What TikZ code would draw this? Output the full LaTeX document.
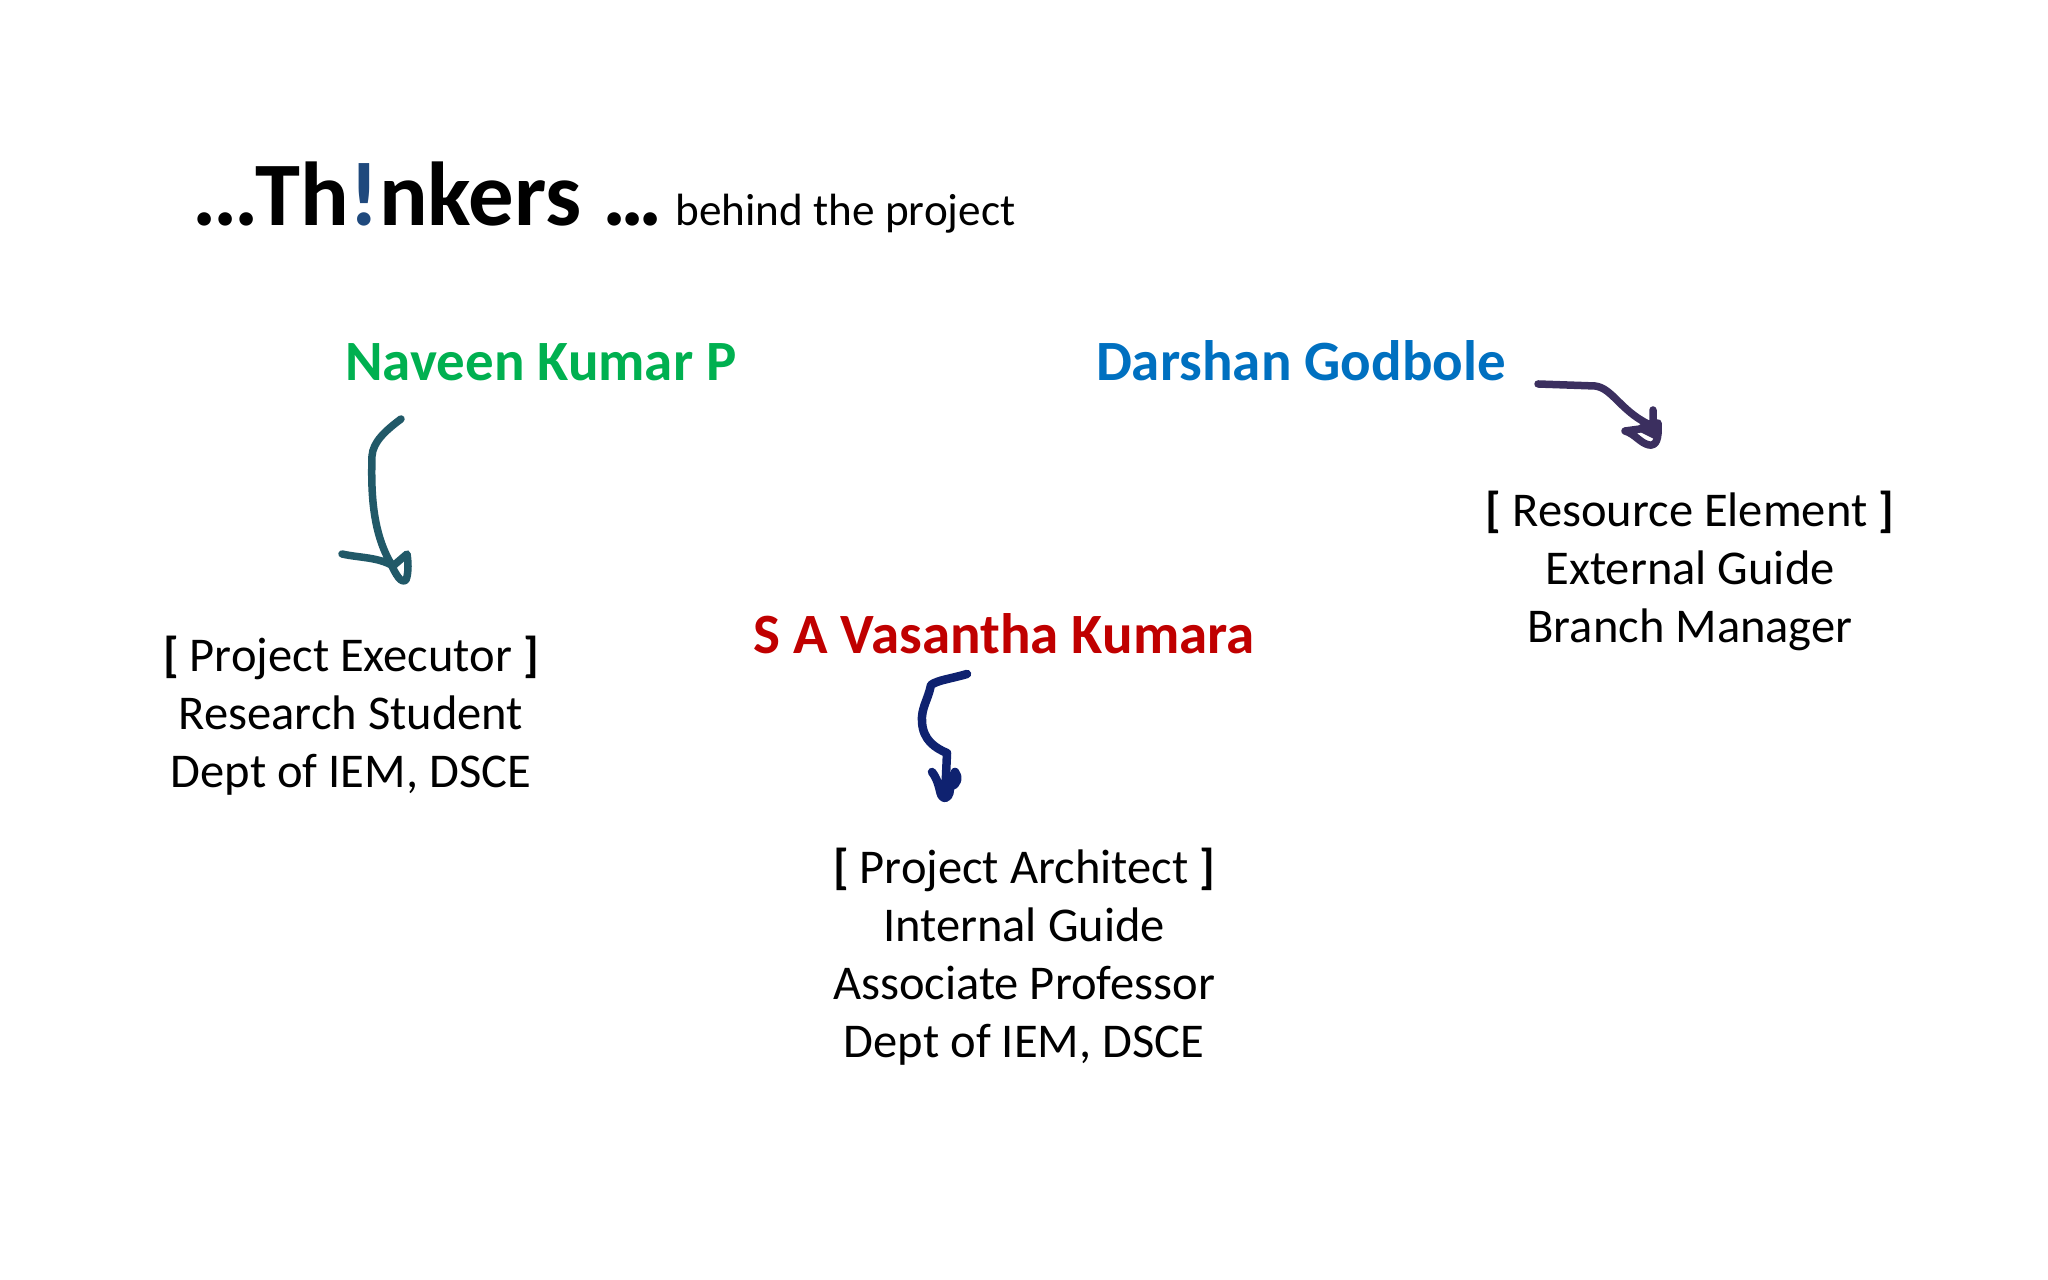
\documentclass[tikz,border=0pt]{standalone}
\usepackage{xcolor}
\usepackage{fontspec}
\setmainfont{Carlito}
\usepackage{tikz}
\definecolor{namegreen}{HTML}{00B050}
\definecolor{nameblue}{HTML}{0070C0}
\definecolor{namered}{HTML}{C00000}
\definecolor{markblue}{HTML}{1F497D}
\definecolor{inkteal}{HTML}{215968}
\definecolor{inkpurple}{HTML}{3B2F5F}
\definecolor{inknavy}{HTML}{0F2270}
\tikzset{
  person/.style={anchor=base, inner sep=0pt, font=\fontsize{16.2}{20}\selectfont\bfseries},
  role/.style={align=center, inner sep=0pt, font=\fontsize{13.8}{16.5}\selectfont},
  ink/.style={line width=0.75mm, line cap=round, line join=round}
}

\begin{document}
\begin{tikzpicture}[x=0.01cm, y=-0.01cm]
\useasboundingbox (0,0) rectangle (2048,1280);
\node[anchor=base west, inner sep=0pt] (title) at (192,226) {\fontsize{25.8}{30}\selectfont\bfseries .\kern-0.9pt.\kern-0.9pt.\kern-0.9pt Th{\color{markblue}!}nkers .\kern-1.8pt.\kern-1.8pt.\hspace{-4pt} {\fontsize{12.85}{16}\selectfont\mdseries behind the project}};
\node[person, text=namegreen] (naveen) at (541,381) {Naveen Kumar P};
\node[person, text=nameblue] (darshan) at (1301,381) {Darshan Godbole};
\node[person, text=namered] (vasantha) at (1004,654) {S A Vasantha Kumara};
\node[role] (executor) at (351,716) {\textbf{[} Project Executor \textbf{]}\\Research Student\\Dept of IEM, DSCE};
\node[role] (element) at (1690,571) {\textbf{[} Resource Element \textbf{]}\\External Guide\\Branch Manager};
\node[role] (architect) at (1024,957) {\textbf{[} Project Architect \textbf{]}\\Internal Guide\\Associate Professor\\Dept of IEM, DSCE};
% hand drawn arrows
\coordinate (n1) at (401,419);
\coordinate (n2) at (372,456);
\coordinate (n3) at (390,562);
\coordinate (n4) at (342,554);
\draw[ink, inkteal] (n1) .. controls (385,431) and (373,442) .. (n2) .. controls (371,490) and (372,530) .. (n3)
  .. controls (396,575) and (401,584) .. (406,580) .. controls (409,572) and (408,560) .. (407,554) -- (393,566)
  .. controls (378,557) and (360,558) .. (n4);
\coordinate (d1) at (1538,384);
\coordinate (d2) at (1595,386);
\coordinate (d3) at (1648,424);
\coordinate (d4) at (1625,431);
\draw[ink, inkpurple] (d1) -- (d2) .. controls (1612,388) and (1620,410) .. (d3) -- (1653,424) -- (1653,410) -- (1653,424) -- (1658,423)
  .. controls (1659,440) and (1656,446) .. (1649,445) .. controls (1640,443) and (1635,434) .. (d4) -- (1640,429) -- (d3);
\fill[inkpurple] (d3) -- (1658,423) -- (1658,441) -- (1640,432) -- cycle;
\coordinate (v1) at (967,674);
\coordinate (v2) at (931,685);
\coordinate (v3) at (947,753);
\coordinate (v4) at (945,798);
\draw[ink, inknavy, line width=0.85mm] (v1) .. controls (950,679) and (938,680) .. (v2) .. controls (928,700) and (921,708) .. (922,722)
  .. controls (923,740) and (935,748) .. (v3) -- (v4) .. controls (938,797) and (942,785) .. (932,772);
\draw[ink, inknavy, line width=0.85mm] (v4) .. controls (950,797) and (950,790) .. (950,786) .. controls (958,786) and (959,776) .. (955,772) -- (950,782);
\end{tikzpicture}
\end{document}
